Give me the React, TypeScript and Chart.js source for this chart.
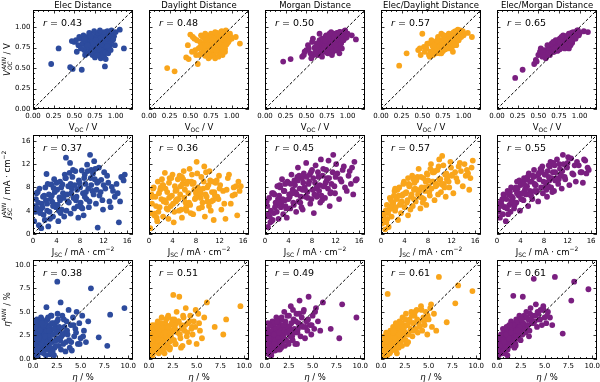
import React, { useEffect, useRef } from "react";
import { Chart, registerables } from "chart.js";
Chart.register(...registerables);

// ---------------- DATA ----------------
const TITLES = ["Elec Distance", "Daylight Distance", "Morgan Distance", "Elec/Daylight Distance", "Elec/Morgan Distance"];

// Row 1: V_OC (measured x, ANN predictions y per model)
const VOC_X = [0.22,0.31,0.45,0.48,0.59,0.87,1.05,1.10,
0.50,0.52,0.55,0.57,0.60,0.62,0.63,0.64,0.65,0.66,
0.67,0.68,0.68,0.69,0.70,0.70,0.71,0.72,0.73,0.73,
0.74,0.75,0.75,0.76,0.77,0.78,0.78,0.79,0.79,0.80,
0.80,0.81,0.81,0.82,0.82,0.83,0.83,0.84,0.84,0.85,
0.85,0.85,0.86,0.86,0.87,0.87,0.88,0.88,0.89,0.89,
0.90,0.90,0.91,0.91,0.92,0.93,0.93,0.94,0.95,0.96,
0.98,1.00,
0.47,0.53,0.56,0.58,0.61,0.63,0.66,0.69,0.71,0.72,
0.74,0.76,0.77,0.79,0.80,0.82,0.83,0.84,0.86,0.87,
0.88,0.89,0.90,0.91,0.92,0.93,0.94,0.95,0.97,0.99,
0.62,0.68,0.73,0.78,0.81,0.85,0.88,0.90,0.76,0.70];
const VOC_ELEC = [0.55,0.74,0.51,0.49,0.48,0.52,0.97,0.74,
0.82,0.84,0.78,0.86,0.80,0.72,0.88,0.76,0.82,0.68,
0.86,0.74,0.90,0.80,0.70,0.84,0.76,0.66,0.88,0.79,
0.72,0.85,0.63,0.78,0.90,0.74,0.82,0.68,0.87,0.77,
0.92,0.71,0.84,0.62,0.80,0.89,0.75,0.83,0.67,0.93,
0.79,0.72,0.86,0.64,0.81,0.90,0.76,0.85,0.70,0.88,
0.80,0.95,0.74,0.86,0.82,0.91,0.77,0.87,0.83,0.92,
0.89,0.94,
0.83,0.70,0.88,0.74,0.90,0.66,0.78,0.92,0.70,0.83,
0.95,0.69,0.81,0.93,0.73,0.87,0.65,0.79,0.94,0.69,
0.82,0.76,0.86,0.68,0.90,0.80,0.72,0.96,0.85,0.78,
0.86,0.93,0.80,0.66,0.96,0.88,0.61,0.77,0.84,0.89];
const VOC_DAYLIGHT = [0.50,0.46,0.63,0.61,0.55,0.70,0.88,0.80,
0.91,0.70,0.86,0.66,0.74,0.82,0.68,0.78,0.88,0.72,
0.80,0.65,0.84,0.76,0.90,0.70,0.82,0.62,0.86,0.75,
0.80,0.68,0.92,0.78,0.72,0.85,0.66,0.81,0.89,0.74,
0.62,0.84,0.77,0.93,0.70,0.80,0.87,0.73,0.64,0.82,
0.90,0.76,0.68,0.85,0.79,0.94,0.72,0.83,0.88,0.66,
0.80,0.91,0.75,0.86,0.70,0.84,0.96,0.79,0.88,0.82,
0.92,0.86,
0.78,0.88,0.72,0.84,0.66,0.90,0.76,0.70,0.86,0.80,
0.64,0.88,0.74,0.82,0.94,0.70,0.80,0.86,0.76,0.90,
0.68,0.84,0.78,0.92,0.74,0.86,0.80,0.90,0.84,0.88,
0.76,0.92,0.66,0.86,0.72,0.80,0.95,0.70,0.84,0.78];
const VOC_MORGAN = [0.58,0.61,0.64,0.70,0.66,0.72,0.90,0.85,
0.72,0.78,0.68,0.82,0.75,0.70,0.80,0.66,0.77,0.84,
0.72,0.79,0.68,0.86,0.74,0.81,0.70,0.77,0.88,0.73,
0.83,0.69,0.79,0.86,0.75,0.81,0.90,0.72,0.84,0.78,
0.88,0.74,0.82,0.70,0.86,0.79,0.92,0.76,0.84,0.80,
0.72,0.89,0.82,0.77,0.87,0.93,0.80,0.74,0.85,0.90,
0.83,0.78,0.88,0.94,0.81,0.86,0.91,0.84,0.89,0.95,
0.87,0.92,
0.66,0.74,0.62,0.86,0.70,0.80,0.92,0.64,0.84,0.74,
0.90,0.68,0.86,0.76,0.94,0.70,0.82,0.88,0.72,0.92,
0.78,0.86,0.68,0.94,0.80,0.74,0.90,0.84,0.96,0.88,
0.76,0.70,0.84,0.92,0.66,0.78,0.86,0.94,0.88,0.72];
const VOC_ELEC_DAYLIGHT = [0.53,0.68,0.72,0.66,0.64,0.70,0.93,0.88,
0.92,0.76,0.74,0.80,0.70,0.78,0.66,0.82,0.72,0.76,
0.68,0.80,0.74,0.70,0.84,0.76,0.72,0.79,0.68,0.83,
0.75,0.80,0.71,0.86,0.77,0.82,0.73,0.88,0.79,0.84,
0.75,0.81,0.89,0.77,0.85,0.80,0.74,0.90,0.83,0.78,
0.87,0.81,0.92,0.76,0.85,0.89,0.80,0.93,0.84,0.78,
0.88,0.95,0.82,0.90,0.86,0.97,0.84,0.91,0.88,0.96,
0.93,0.90,
0.74,0.70,0.80,0.66,0.84,0.76,0.72,0.88,0.68,0.82,
0.78,0.90,0.74,0.86,0.80,0.92,0.76,0.84,0.88,0.80,
0.94,0.82,0.86,0.78,0.90,0.96,0.84,0.92,0.88,0.95,
0.70,0.84,0.92,0.74,0.82,0.87,0.79,0.93,0.90,0.70];
const VOC_ELEC_MORGAN = [0.38,0.48,0.55,0.58,0.62,0.74,0.95,0.94,
0.66,0.70,0.64,0.72,0.68,0.74,0.70,0.66,0.76,0.72,
0.78,0.70,0.74,0.80,0.72,0.77,0.82,0.74,0.79,0.71,
0.84,0.76,0.80,0.73,0.86,0.78,0.82,0.75,0.80,0.88,
0.77,0.83,0.79,0.86,0.74,0.81,0.89,0.78,0.84,0.80,
0.87,0.76,0.83,0.90,0.79,0.85,0.82,0.91,0.78,0.86,
0.84,0.93,0.81,0.88,0.85,0.92,0.87,0.90,0.94,0.89,
0.96,0.93,
0.60,0.74,0.70,0.66,0.78,0.72,0.80,0.70,0.84,0.76,
0.72,0.86,0.80,0.76,0.90,0.84,0.78,0.88,0.82,0.92,
0.86,0.80,0.90,0.84,0.94,0.88,0.92,0.86,0.96,0.90,
0.68,0.82,0.74,0.88,0.80,0.86,0.78,0.84,0.82,0.74];

// Row 2: J_SC
const JSC_X = [0.2,0.5,0.7,1.0,1.1,1.4,1.5,1.8,2.1,2.3,
2.4,2.7,2.9,3.1,3.3,3.4,3.7,3.9,4.0,4.3,
4.5,4.6,4.9,5.1,5.3,5.4,5.6,5.9,6.0,6.3,
6.4,6.7,6.9,7.0,7.2,7.5,7.7,7.8,8.1,8.3,
8.5,8.6,8.9,9.1,9.2,9.5,9.7,9.8,10.1,10.2,
10.4,10.7,10.9,11.0,11.3,11.6,11.9,12.3,12.6,13.0,
13.4,13.9,14.4,14.6,15.0,15.2,15.6,0.9,1.9,2.6,
3.5,4.2,5.0,5.7,6.5,7.3,8.0,8.8,9.4,10.5,
0.4,1.3,2.0,3.0,4.7,5.8,6.2,7.1,8.4,11.2,
0.3,0.8,1.2,1.7,2.2,2.5,2.8,3.2,3.6,3.8,
4.1,4.4,4.8,5.2,5.5,6.1,6.6,6.8,7.4,7.9,
8.2,8.7,9.0,9.3,9.6,9.9,10.3,10.6,11.1,11.5,
11.8,12.1,12.8,13.2,13.6,14.2,14.8,15.4,0.6,1.6,
2.4,3.4,4.6,5.6,6.4,7.6,8.8,9.9,10.8,12.0];
const JSC_ELEC = [2.2,6.0,4.5,1.5,7.8,1.0,5.2,3.3,8.0,10.3,
4.0,6.8,2.6,8.5,5.5,3.0,7.2,4.6,8.8,2.2,
6.3,9.0,4.2,7.0,3.0,10.2,13.1,5.6,8.2,12.2,
3.5,9.8,6.2,4.4,10.8,7.6,2.8,9.2,5.4,10.9,
7.0,3.2,8.6,6.0,11.9,4.6,13.6,9.6,7.4,10.4,
12.5,5.2,8.8,1.1,6.6,9.3,4.2,7.8,10.0,5.6,
8.1,6.4,7.0,2.0,9.8,9.7,10.2,5.4,6.6,1.3,
7.9,5.0,8.5,4.0,7.0,5.8,8.0,10.2,7.8,9.4,
3.8,4.2,2.4,6.0,3.6,6.8,10.5,8.4,4.4,11.4,
4.8,7.2,3.6,6.4,5.8,8.6,3.8,6.6,9.4,5.0,
7.6,4.0,8.0,6.2,9.6,5.4,7.8,11.0,6.4,8.8,
4.6,9.6,7.2,10.8,5.6,8.4,6.8,11.2,9.0,7.2,
5.8,10.6,8.8,4.6,7.4,8.6,5.6,9.2,7.0,4.6,
5.2,4.8,5.8,9.6,8.6,4.8,6.4,11.0,7.6,8.4];
const JSC_DAYLIGHT = [1.0,5.2,7.8,3.5,6.4,2.2,9.0,4.6,6.0,8.4,
3.0,10.5,5.4,7.2,2.6,8.8,4.8,6.6,10.2,3.8,
7.4,5.6,9.4,4.0,6.8,8.2,2.8,10.8,6.2,4.6,
8.6,7.0,11.2,5.0,9.0,3.4,7.6,6.0,12.4,8.0,
4.4,6.8,9.8,5.4,7.8,3.0,10.6,6.4,8.4,4.8,
9.2,7.2,5.8,2.4,8.8,6.4,10.0,4.2,7.4,2.6,
9.6,5.2,8.0,6.8,3.2,9.0,8.2,3.2,7.6,5.8,
9.6,2.0,6.0,8.6,5.0,10.2,7.0,6.2,11.6,4.0,
6.8,2.8,8.0,4.4,7.6,9.4,5.4,3.6,7.8,6.6,
3.6,8.0,4.8,7.0,9.4,5.6,7.8,4.2,6.4,9.6,
5.2,8.2,6.0,10.0,4.2,7.6,9.0,5.4,8.6,6.2,
10.4,7.4,4.6,9.0,6.8,8.0,10.8,5.6,7.2,9.2,
6.0,8.4,5.2,7.6,10.2,6.6,8.2,7.4,6.4,3.8,
8.4,6.2,5.8,9.8,4.0,8.8,7.0,5.6,9.0,7.8];
const JSC_MORGAN = [3.0,1.2,6.2,4.0,2.2,7.0,3.6,5.4,8.2,2.6,
6.6,4.6,9.4,3.4,7.4,5.8,2.8,8.8,6.0,4.4,
10.2,7.0,5.0,8.4,3.8,6.8,11.4,7.8,5.4,9.6,
4.2,8.0,6.4,12.2,7.2,9.0,5.2,10.6,7.6,3.6,
8.8,11.8,6.6,9.8,7.4,12.8,5.8,10.0,8.2,6.2,
11.0,7.8,9.6,4.8,8.6,13.6,7.0,10.4,6.0,9.0,
11.6,7.4,10.8,8.6,6.8,12.4,9.4,2.0,5.0,8.0,
4.8,6.4,9.2,5.6,8.8,6.2,11.0,8.0,5.4,9.2,
4.8,2.4,3.8,6.0,7.6,10.0,4.6,9.8,6.8,7.2,
5.6,3.0,7.0,4.6,6.0,8.4,5.2,7.4,4.4,9.0,
6.8,8.6,5.4,7.2,9.8,6.4,10.4,7.6,8.6,6.0,
9.6,7.8,10.6,8.4,6.6,11.2,8.8,9.6,7.0,10.6,
8.2,12.0,9.4,11.0,8.0,10.0,11.4,9.2,3.4,6.8,
5.4,8.6,7.0,9.2,7.6,10.2,6.4,8.2,12.6,9.8];
const JSC_ELEC_DAYLIGHT = [1.8,3.4,0.8,5.0,2.6,4.2,6.2,3.0,5.4,7.4,
4.0,6.0,2.4,8.0,5.2,3.6,6.8,9.0,4.6,7.2,
5.8,3.2,8.4,6.4,10.0,4.8,7.6,5.6,9.2,6.8,
11.2,4.4,8.0,6.2,9.6,7.4,5.0,10.4,8.2,6.6,
12.0,7.8,9.0,5.8,10.8,8.4,6.8,11.6,9.4,7.2,
13.4,8.6,10.2,6.4,9.8,8.0,11.4,7.0,10.6,9.0,
12.2,8.2,10.0,11.0,7.6,9.6,12.6,2.0,4.4,6.2,
5.6,7.0,4.2,8.8,7.4,6.0,9.2,10.8,8.6,8.4,
2.8,1.2,5.2,6.6,8.6,7.8,9.8,5.4,11.2,9.4,
2.6,4.0,3.6,5.8,6.6,4.6,7.6,5.0,6.6,8.6,
7.0,5.4,8.2,6.8,9.4,7.6,6.4,9.8,8.0,10.2,
7.2,9.0,10.6,8.2,11.0,9.4,8.6,11.8,10.4,9.0,
12.4,10.2,9.6,11.6,10.8,12.0,10.4,11.4,3.6,4.8,
7.8,5.2,9.6,6.0,7.4,9.0,10.6,12.8,8.0,10.0];
const JSC_ELEC_MORGAN = [4.0,2.8,5.6,3.4,6.8,4.6,2.2,7.4,5.0,3.8,
8.0,6.2,4.4,7.6,5.4,9.0,6.6,4.0,8.4,7.0,
5.8,9.6,6.8,8.2,4.8,10.4,7.4,9.0,6.0,11.0,
8.6,7.2,10.0,5.6,9.4,8.0,11.6,7.0,10.2,8.8,
6.4,10.8,9.2,12.4,8.0,10.6,7.4,11.8,9.6,12.8,
8.6,11.2,10.0,7.8,12.0,9.4,11.4,8.4,13.0,10.2,
9.0,11.8,10.6,8.8,12.6,10.4,11.0,6.0,3.4,5.8,
7.8,6.0,9.4,7.0,8.4,10.6,8.0,9.8,7.2,9.4,
5.2,4.6,6.8,5.0,7.4,6.6,9.8,10.4,7.6,13.6,
3.8,5.0,6.2,4.4,7.2,6.4,5.4,8.0,7.0,9.2,
6.0,8.8,7.8,9.8,6.8,10.0,8.4,7.4,11.2,9.0,
10.2,8.2,11.6,9.6,12.2,10.6,9.4,12.0,10.8,9.8,
11.6,13.2,10.4,11.8,12.4,10.6,12.8,11.4,4.8,6.0,
5.6,7.0,8.6,9.0,7.4,10.8,11.8,9.2,10.2,12.2];

// Row 3: efficiency eta
const ETA_X = [0.10,0.18,0.27,0.33,0.41,0.46,0.55,0.62,0.70,0.77,
0.84,0.92,0.98,1.05,1.12,1.19,1.27,1.33,1.41,1.48,
1.56,1.63,1.71,1.78,1.86,1.94,2.02,2.09,2.17,2.26,
2.35,2.44,2.55,2.62,2.71,2.80,2.90,3.00,3.08,3.18,
3.30,3.41,3.52,3.63,3.74,3.86,3.97,4.08,4.20,4.33,
4.45,4.58,4.71,4.86,5.00,5.17,5.35,5.56,5.80,6.08,
6.90,7.80,8.10,9.60,0.22,0.38,0.58,0.88,1.16,1.52,
1.83,2.21,2.48,0.66,1.09,1.38,1.67,2.85,3.36,0.50,
0.05,0.14,0.24,0.31,0.36,0.44,0.52,0.60,0.68,0.74,
0.80,0.86,0.95,1.02,1.08,1.14,1.22,1.30,1.36,1.44,
1.50,1.58,1.66,1.74,1.80,1.90,1.98,2.06,2.14,2.30,
2.40,2.52,2.66,2.76,2.94,3.12,3.24,3.46,3.58,3.80,
4.02,4.26,4.52,4.90,5.26,0.16,0.42,0.72,1.00,1.26,
1.46,1.70,1.96,2.20,2.58,0.30,0.64,0.96,1.34,1.88];
const ETA_ELEC = [1.2,3.0,0.4,2.2,4.2,1.6,2.8,0.8,3.6,2.0,
4.4,1.2,2.6,3.4,0.6,2.2,4.0,1.6,5.5,2.8,
1.0,3.6,2.2,0.5,3.0,4.6,1.8,2.6,3.8,1.2,
3.2,2.0,8.2,4.2,1.4,3.0,6.0,2.4,4.6,1.6,
3.4,0.8,4.0,2.6,5.2,1.2,3.6,0.9,4.4,2.4,
3.2,5.0,1.6,3.8,2.2,4.6,3.0,1.8,4.0,7.5,
2.3,1.4,4.7,5.4,2.6,1.0,3.2,2.4,3.0,4.2,
2.6,0.4,2.8,1.8,1.4,3.2,1.6,2.0,2.8,0.2,
0.6,1.8,3.4,0.3,2.8,3.8,1.0,2.4,4.0,0.7,
3.2,1.6,4.2,2.0,3.6,1.0,2.6,3.8,0.4,3.0,
1.8,4.4,2.4,3.4,1.2,2.0,3.8,0.8,2.6,3.6,
1.4,4.0,2.2,3.4,1.0,2.6,4.2,1.8,3.0,2.0,
1.8,3.6,2.8,1.6,2.4,2.2,1.2,3.0,0.8,2.4,
1.4,3.0,0.6,3.2,4.8,4.0,2.2,3.8,1.2,4.6];
const ETA_DAYLIGHT = [1.0,2.4,0.6,3.2,1.8,2.8,1.2,3.6,2.2,0.8,
3.0,4.0,1.6,2.6,3.4,1.0,2.4,4.4,3.0,1.8,
2.8,0.6,3.8,2.2,1.4,3.2,4.6,2.4,1.0,3.6,
2.8,4.2,6.8,2.0,3.4,1.6,5.0,2.8,4.0,6.6,
2.2,3.6,1.4,4.4,3.0,5.4,2.4,3.8,1.8,4.6,
3.2,2.6,4.0,3.4,1.6,4.8,3.0,2.2,4.4,6.0,
3.4,2.6,4.2,5.6,1.6,0.4,2.0,1.2,0.8,2.0,
3.4,1.2,3.0,2.6,2.0,0.9,2.6,3.8,1.2,1.8,
0.2,1.4,2.6,1.0,3.6,2.2,0.8,3.0,1.8,2.6,
1.2,3.4,2.0,0.6,2.8,3.8,1.4,2.2,3.2,0.8,
2.6,1.6,3.6,2.4,4.2,1.2,2.8,3.4,1.8,2.4,
3.8,2.0,4.2,1.6,3.0,4.0,2.6,3.2,4.6,3.6,
2.8,4.0,3.4,5.2,3.8,0.6,1.8,1.2,3.0,2.0,
1.0,2.8,4.4,2.2,3.0,2.4,1.4,2.0,3.8,1.2];
const ETA_MORGAN = [2.0,0.8,3.0,1.4,2.6,0.5,3.6,1.8,2.8,4.0,
1.2,2.2,3.4,0.9,2.8,4.4,1.6,3.0,2.0,3.8,
1.0,2.6,4.2,1.8,3.2,2.4,5.0,1.4,3.6,2.8,
4.6,1.8,3.4,2.6,5.6,3.0,2.0,4.2,3.2,1.6,
4.8,2.8,3.8,6.2,2.4,4.4,3.4,5.2,2.2,4.0,
3.0,6.6,3.6,2.6,4.6,3.2,5.4,4.0,3.0,6.0,
3.2,2.2,5.8,4.4,1.2,2.8,1.0,3.4,2.2,1.4,
2.0,3.0,1.6,0.4,1.8,2.6,3.4,2.4,1.6,2.4,
1.4,2.4,0.6,3.2,1.8,2.6,1.0,3.6,2.2,1.4,
3.0,2.4,1.2,3.8,2.0,3.2,1.6,2.8,4.2,2.2,
3.4,1.8,3.0,4.4,2.6,3.6,2.0,3.0,4.0,2.8,
3.4,4.6,2.4,3.8,5.2,2.8,4.0,3.2,4.8,3.6,
5.0,3.4,4.2,3.6,5.0,1.0,2.2,0.8,1.6,4.0,
2.8,1.2,3.6,2.0,3.0,3.8,0.4,2.6,1.0,2.2];
const ETA_ELEC_DAYLIGHT = [0.6,1.8,1.0,2.4,0.4,1.4,2.8,0.8,6.9,1.6,
2.2,0.6,3.0,1.8,2.6,1.2,3.4,2.0,1.0,2.8,
3.8,1.6,2.4,3.2,1.2,4.0,2.6,1.8,3.0,4.4,
2.2,3.4,2.8,4.8,1.6,3.6,2.6,4.2,3.0,5.0,
2.4,3.8,4.6,3.2,5.2,2.8,4.0,3.4,5.6,3.0,
4.4,3.6,5.0,2.6,4.2,5.4,3.4,4.8,3.0,8.7,
3.9,5.9,7.8,7.2,0.8,0.3,1.2,2.0,1.4,0.9,
2.0,1.4,3.6,0.4,1.0,2.2,0.6,1.8,3.8,2.4,
0.2,0.8,1.6,0.6,1.2,2.0,0.4,1.4,2.4,1.0,
1.8,0.8,2.6,1.4,2.2,3.0,1.6,2.4,1.2,3.2,
2.0,2.8,1.6,3.6,2.4,2.0,3.2,2.6,3.8,2.2,
3.0,4.2,2.6,3.6,4.0,3.2,4.6,3.0,5.0,4.2,
3.6,5.2,4.0,4.6,5.8,1.2,0.6,1.8,0.8,2.8,
2.2,1.2,2.8,3.4,2.0,0.4,2.0,1.4,3.0,2.6];
const ETA_ELEC_MORGAN = [1.0,0.4,2.0,1.4,0.8,2.4,1.6,3.2,1.2,2.0,
0.6,2.8,1.8,3.0,1.0,2.4,3.6,1.4,2.6,4.0,
2.0,3.0,6.7,2.4,3.4,1.6,4.2,2.8,3.6,2.2,
4.6,3.0,3.8,2.6,6.6,3.4,4.4,2.8,5.0,3.6,
4.2,3.0,5.4,3.8,4.6,8.5,4.0,5.8,3.4,4.8,
4.2,5.2,3.6,5.6,4.4,3.8,5.0,4.4,3.6,8.7,
2.7,6.2,8.2,7.4,1.8,1.2,0.6,2.4,3.2,1.8,
1.2,3.2,2.0,1.6,0.4,2.2,2.8,4.6,2.4,1.0,
0.3,1.4,0.8,2.2,1.6,1.0,2.6,1.2,2.0,3.0,
1.6,2.4,1.2,3.2,2.0,2.8,1.8,3.4,2.4,1.6,
3.0,2.2,3.6,2.6,1.8,3.8,3.0,2.4,4.0,2.8,
3.4,4.4,2.6,3.8,3.2,4.4,3.6,4.8,4.2,3.8,
4.6,5.0,4.2,5.2,4.6,0.8,2.6,1.8,3.4,2.2,
2.8,3.6,1.4,3.0,4.2,1.4,0.8,2.6,3.6,2.0];

const R_VOC = [0.43, 0.48, 0.50, 0.57, 0.65];
const R_JSC = [0.37, 0.36, 0.45, 0.57, 0.55];
const R_ETA = [0.38, 0.51, 0.49, 0.61, 0.61];

const VOC_TICKS = [0, 0.25, 0.5, 0.75, 1.0];
const VOC_TICK_LABELS = ["0.00", "0.25", "0.50", "0.75", "1.00"];
const JSC_TICKS = [0, 4, 8, 12, 16];
const JSC_TICK_LABELS = ["0", "4", "8", "12", "16"];
const ETA_TICKS = [0, 2.5, 5, 7.5, 10];
const ETA_TICK_LABELS = ["0.0", "2.5", "5.0", "7.5", "10.0"];
const AXIS_MAX = [1.21, 17, 10.5];
const MINOR_STEP = [0.0625, 1, 0.625];

// ---------------- STYLE / LAYOUT ----------------
const BLUE = "#2d4b9d";
const ORANGE = "#f9a51b";
const PURPLE = "#7a1f80";
const COLORS = [BLUE, ORANGE, PURPLE, ORANGE, PURPLE];
const COL_LEFT = [33, 149, 265, 381, 497];
const ROW_TOP = [10, 135, 260];
const PW = 100;
const PH = 99;
const YW = 33;
const PADT = 10;
const PADR = 6;
const XH = 26;
const FONT = "DejaVu Sans";

type Seg = { t: string; it?: boolean; sub?: string; sup?: string; sit?: boolean };

const ROWS = [
  {
    x: VOC_X, ys: [VOC_ELEC, VOC_DAYLIGHT, VOC_MORGAN, VOC_ELEC_DAYLIGHT, VOC_ELEC_MORGAN], r: R_VOC,
    ticks: VOC_TICKS, labels: VOC_TICK_LABELS,
    xTitle: [{ t: "V", sub: "OC" }, { t: " / V" }] as Seg[],
    yTitle: [{ t: "V", it: true, sub: "OC", sup: "ANN", sit: true }, { t: " / V" }] as Seg[],
  },
  {
    x: JSC_X, ys: [JSC_ELEC, JSC_DAYLIGHT, JSC_MORGAN, JSC_ELEC_DAYLIGHT, JSC_ELEC_MORGAN], r: R_JSC,
    ticks: JSC_TICKS, labels: JSC_TICK_LABELS,
    xTitle: [{ t: "J", sub: "SC" }, { t: " / mA · cm", sup: "−2" }] as Seg[],
    yTitle: [{ t: "J", it: true, sub: "SC", sup: "ANN", sit: true }, { t: " / mA · cm", sup: "−2" }] as Seg[],
  },
  {
    x: ETA_X, ys: [ETA_ELEC, ETA_DAYLIGHT, ETA_MORGAN, ETA_ELEC_DAYLIGHT, ETA_ELEC_MORGAN], r: R_ETA,
    ticks: ETA_TICKS, labels: ETA_TICK_LABELS,
    xTitle: [{ t: "η", it: true }, { t: " / %" }] as Seg[],
    yTitle: [{ t: "η", it: true, sup: "ANN", sit: true }, { t: " / %" }] as Seg[],
  },
];

function drawRich(ctx: CanvasRenderingContext2D, segs: Seg[], x: number, y: number, size: number, align: "center" | "left") {
  const small = size * 0.7;
  const f = (it: boolean | undefined, s: number) => `${it ? "italic " : ""}${s}px "${FONT}"`;
  const widths: number[][] = [];
  let total = 0;
  for (const s of segs) {
    ctx.font = f(s.it, size);
    const w = ctx.measureText(s.t).width;
    ctx.font = f(s.sit, small);
    const ws = Math.max(s.sub ? ctx.measureText(s.sub).width : 0, s.sup ? ctx.measureText(s.sup).width : 0);
    widths.push([w, ws]);
    total += w + ws;
  }
  let cx = align === "center" ? x - total / 2 : x;
  ctx.textBaseline = "alphabetic";
  ctx.textAlign = "left";
  ctx.fillStyle = "#000";
  segs.forEach((s, i) => {
    ctx.font = f(s.it, size);
    ctx.fillText(s.t, cx, y);
    cx += widths[i][0];
    ctx.font = f(s.sit, small);
    if (s.sub) ctx.fillText(s.sub, cx, y + size * 0.28);
    if (s.sup) ctx.fillText(s.sup, cx, y - size * 0.42);
    cx += widths[i][1];
  });
}

const decoPlugin = {
  id: "panelDeco",
  afterDatasetsDraw(chart: any, _args: any, o: any) {
    const ctx: CanvasRenderingContext2D = chart.ctx;
    const a = chart.chartArea;
    const xs = chart.scales.x;
    const ys = chart.scales.y;
    ctx.save();
    ctx.strokeStyle = "#000";
    ctx.lineWidth = 0.8;
    const tick = (v: number, len: number) => {
      const px = Math.round(xs.getPixelForValue(v)) + 0.5;
      const py = Math.round(ys.getPixelForValue(v)) + 0.5;
      ctx.beginPath();
      ctx.moveTo(px, a.bottom); ctx.lineTo(px, a.bottom - len);
      ctx.moveTo(px, a.top); ctx.lineTo(px, a.top + len);
      ctx.moveTo(a.left, py); ctx.lineTo(a.left + len, py);
      ctx.moveTo(a.right, py); ctx.lineTo(a.right - len, py);
      ctx.stroke();
    };
    for (let v = o.minor; v < o.max - 1e-9; v += o.minor) {
      if (!o.ticks.some((t: number) => Math.abs(t - v) < 1e-6)) tick(v, 2);
    }
    o.ticks.forEach((t: number) => tick(t, 3.5));
    ctx.lineWidth = 1;
    ctx.strokeRect(a.left + 0.5, a.top + 0.5, a.right - a.left - 1, a.bottom - a.top - 1);
    ctx.restore();
  },
  afterDraw(chart: any, _args: any, o: any) {
    const ctx: CanvasRenderingContext2D = chart.ctx;
    const a = chart.chartArea;
    const cxm = (a.left + a.right) / 2;
    ctx.save();
    if (o.title) {
      ctx.font = `8.5px "${FONT}"`;
      ctx.fillStyle = "#000";
      ctx.textAlign = "center";
      ctx.textBaseline = "alphabetic";
      ctx.fillText(o.title, cxm, a.top - 2.5);
    }
    drawRich(ctx, [{ t: "r", it: true }, { t: " = " + o.r.toFixed(2) }], a.left + 10, a.top + 15.5, 9.5, "left");
    drawRich(ctx, o.xTitle, cxm, a.bottom + 21, 8.5, "center");
    if (o.yTitle) {
      ctx.save();
      ctx.translate(10, (a.top + a.bottom) / 2);
      ctx.rotate(-Math.PI / 2);
      drawRich(ctx, o.yTitle, 0, 0, 8.5, "center");
      ctx.restore();
    }
    ctx.restore();
  },
};

export default function App() {
  const refs = useRef<(HTMLCanvasElement | null)[]>([]);
  useEffect(() => {
    const charts: Chart[] = [];
    ROWS.forEach((row, ri) => {
      const max = AXIS_MAX[ri];
      row.ys.forEach((yv, ci) => {
        const cv = refs.current[ri * 5 + ci];
        if (!cv) return;
        const pts = row.x.map((xv, k) => ({ x: xv, y: yv[k] })).filter((p) => p.y !== undefined);
        const tickOpts = (show: boolean) => ({
          display: show,
          color: "#000",
          font: { size: 7, family: FONT },
          padding: 2.5,
          maxRotation: 0,
          autoSkip: false,
          callback: (_v: any, i: number) => row.labels[i],
        });
        const ch = new Chart(cv, {
          type: "scatter",
          data: {
            datasets: [
              {
                type: "line",
                data: [{ x: 0, y: 0 }, { x: max, y: max }],
                borderColor: "#000",
                borderWidth: 1,
                borderDash: [3, 2],
                pointRadius: 0,
                fill: false,
                order: 0,
              } as any,
              {
                type: "scatter",
                data: pts,
                backgroundColor: COLORS[ci],
                borderWidth: 0,
                pointRadius: 2.9,
                order: 1,
              } as any,
            ],
          },
          options: {
            responsive: false,
            animation: false,
            events: [],
            layout: { padding: { top: PADT, right: PADR, left: 0, bottom: 0 } },
            plugins: {
              legend: { display: false },
              tooltip: { enabled: false },
              panelDeco: {
                title: ri === 0 ? TITLES[ci] : null,
                r: row.r[ci],
                xTitle: row.xTitle,
                yTitle: ci === 0 ? row.yTitle : null,
                ticks: row.ticks,
                minor: MINOR_STEP[ri],
                max,
              },
            } as any,
            scales: {
              x: {
                type: "linear",
                min: 0,
                max,
                afterBuildTicks: (s: any) => { s.ticks = row.ticks.map((v) => ({ value: v })); },
                afterFit: (s: any) => { s.height = XH; },
                ticks: tickOpts(true),
                grid: { display: false, drawTicks: false },
                border: { display: false },
              },
              y: {
                type: "linear",
                min: 0,
                max,
                afterBuildTicks: (s: any) => { s.ticks = row.ticks.map((v) => ({ value: v })); },
                afterFit: (s: any) => { s.width = YW; },
                ticks: tickOpts(ci === 0),
                grid: { display: false, drawTicks: false },
                border: { display: false },
              },
            } as any,
          },
          plugins: [decoPlugin as any],
        });
        charts.push(ch);
      });
    });
    return () => charts.forEach((c) => c.destroy());
  }, []);

  const cw = YW + PW + PADR;
  const chh = PADT + PH + XH;
  const cells: JSX.Element[] = [];
  ROW_TOP.forEach((top, ri) =>
    COL_LEFT.forEach((left, ci) => {
      const idx = ri * 5 + ci;
      cells.push(
        <canvas
          key={idx}
          ref={(el) => { refs.current[idx] = el; }}
          width={cw}
          height={chh}
          style={{ position: "absolute", left: left - YW, top: top - PADT, width: cw, height: chh }}
        />
      );
    })
  );
  return (
    <div style={{ position: "fixed", left: 0, top: 0, width: 600, height: 382, overflow: "hidden", background: "#fff" }}>
      {cells}
    </div>
  );
}
